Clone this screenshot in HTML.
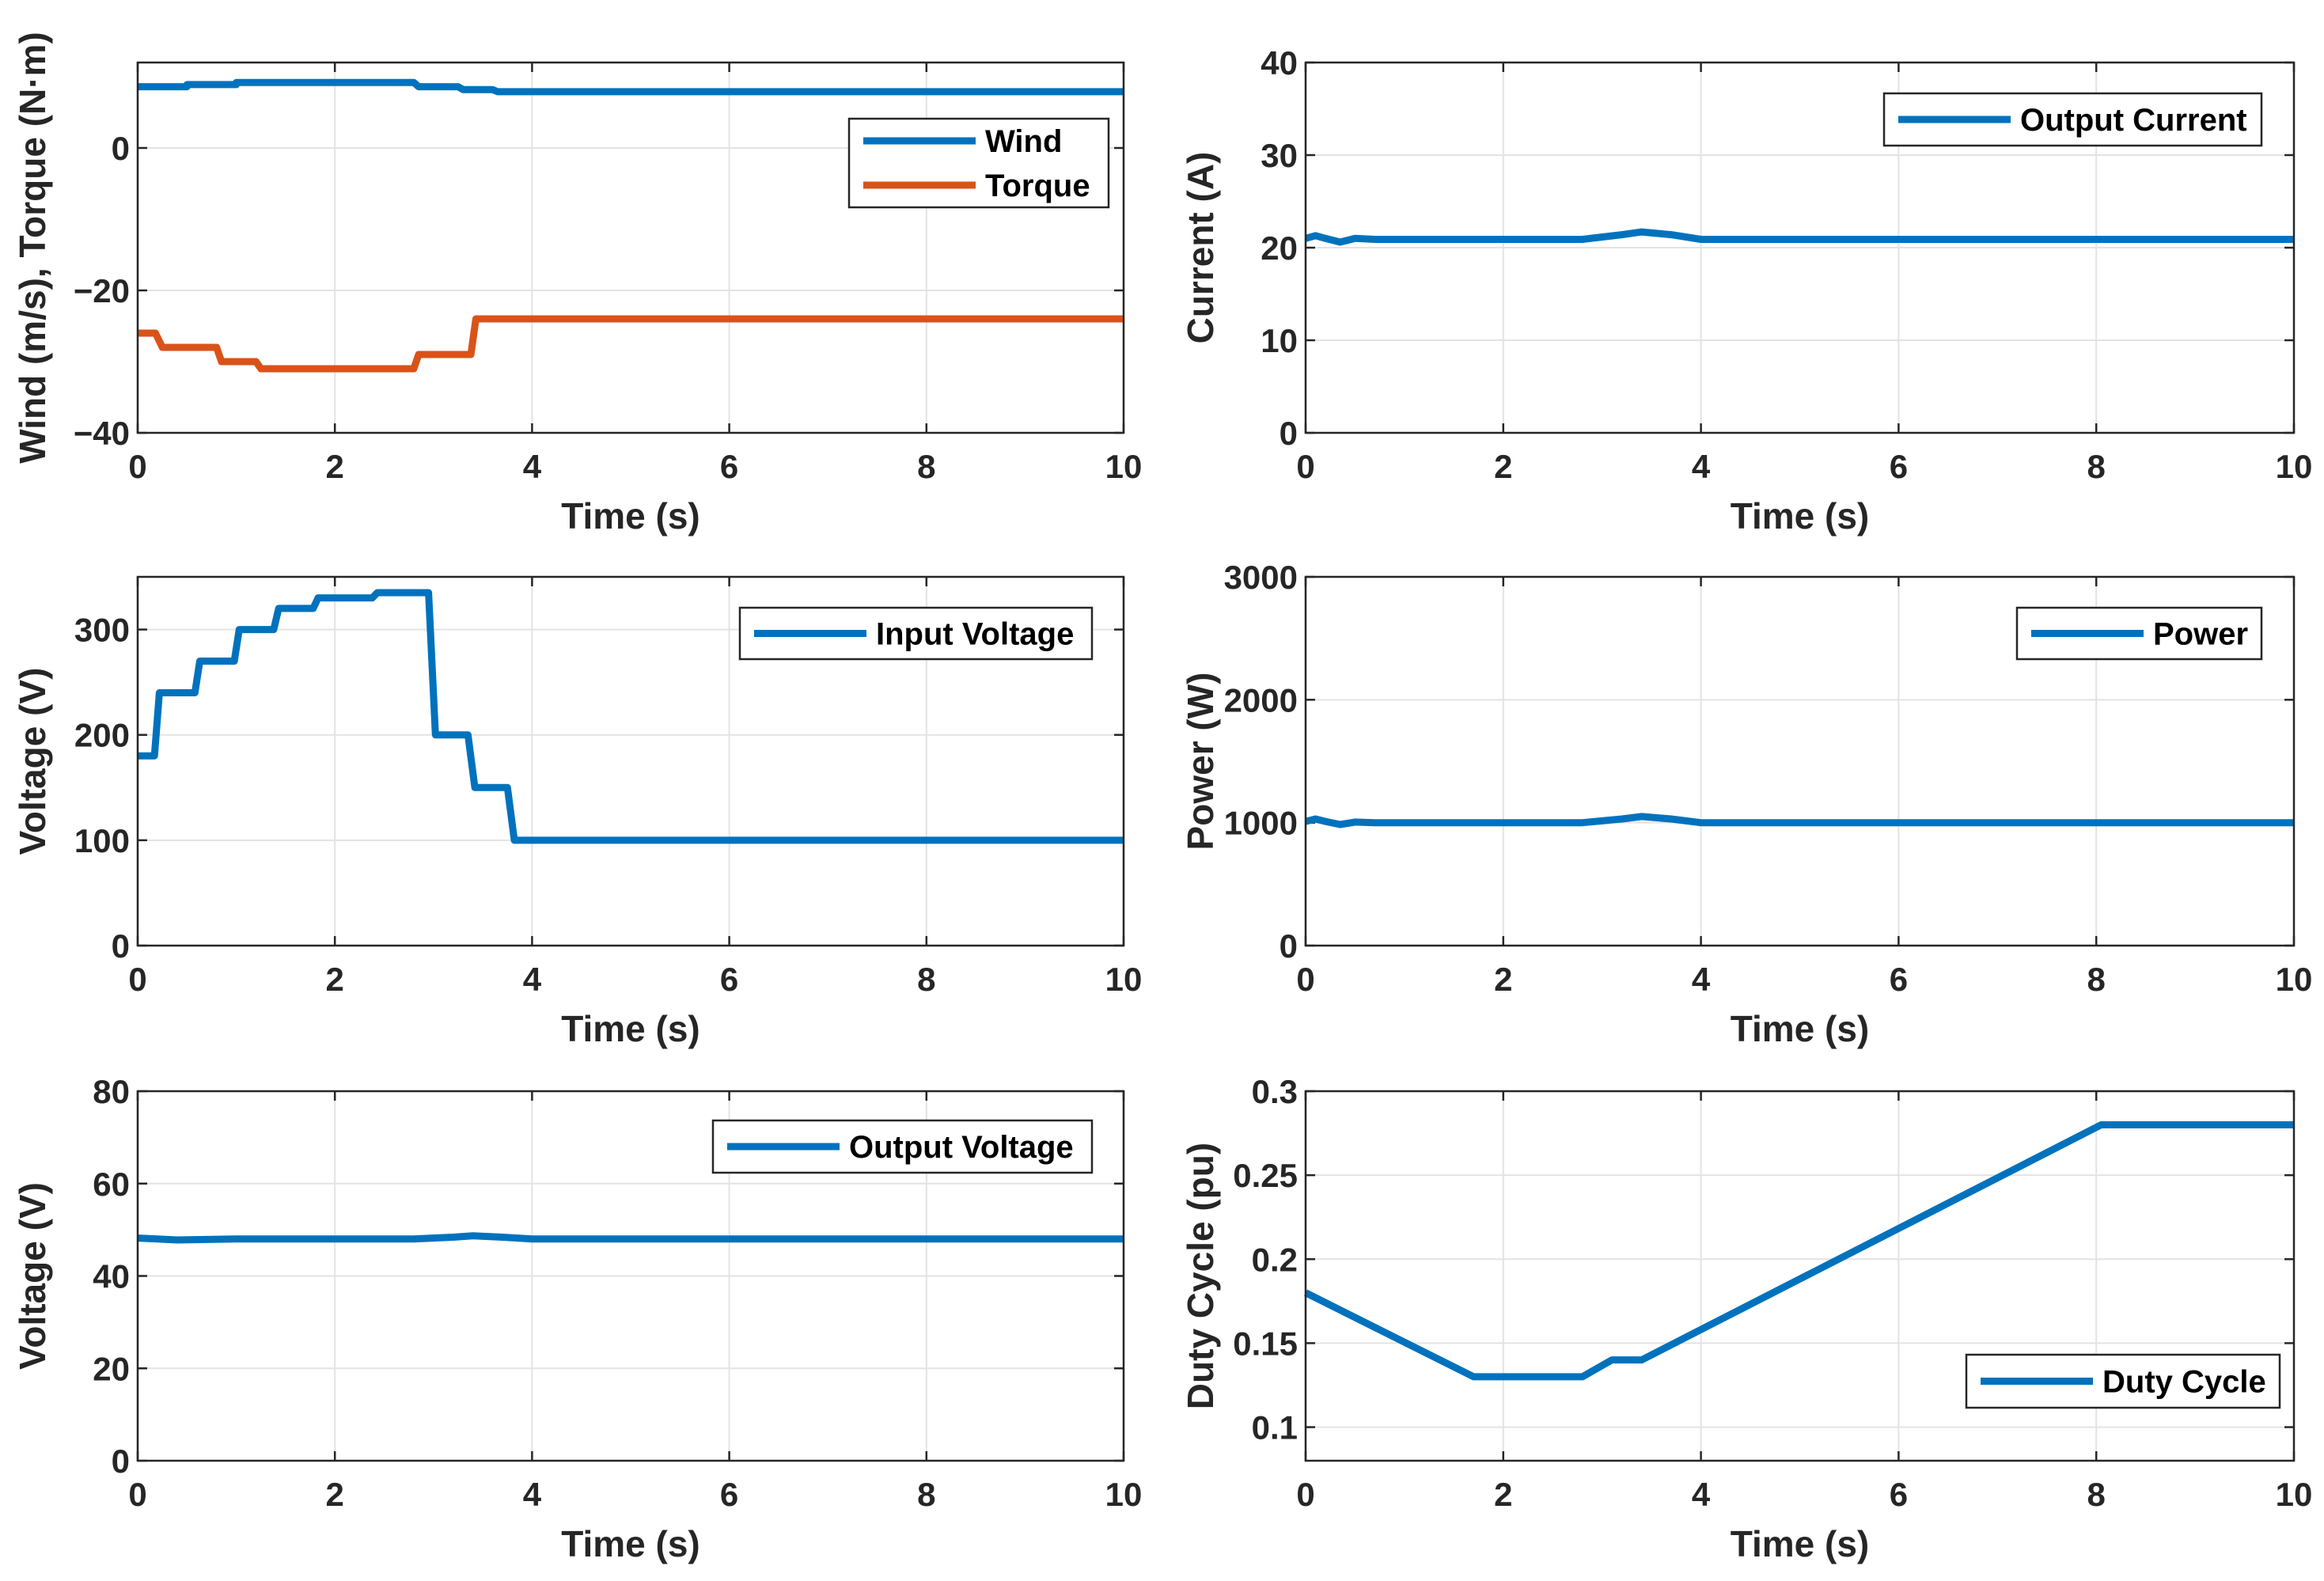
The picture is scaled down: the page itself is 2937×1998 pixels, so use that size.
<!DOCTYPE html>
<html><head><meta charset="utf-8"><style>
body{margin:0;background:#fff;}
svg{display:block;font-family:"Liberation Sans",Arial,sans-serif;font-weight:bold;}
</style></head><body>
<svg id="fig" width="2937" height="1998" viewBox="0 0 2937 1998" xmlns="http://www.w3.org/2000/svg"></svg>
<script>
// ---- data ----
const timeTicks = [0,2,4,6,8,10];
const windT = [0,0.5,0.5,1.0,1.0,2.8,2.85,3.25,3.3,3.6,3.65,10];
const windV = [8.6,8.6,8.9,8.9,9.2,9.2,8.6,8.6,8.2,8.2,7.9,7.9];
const torqueT = [0,0.18,0.25,0.8,0.85,1.2,1.25,2.8,2.85,3.38,3.43,10];
const torqueV = [-26,-26,-28,-28,-30,-30,-31,-31,-29,-29,-24,-24];
const windTicks = [-40,-20,0];
const currentT = [0,0.1,0.2,0.35,0.5,0.7,1.0,2.8,3.2,3.4,3.7,4.0,10];
const currentV = [21,21.3,21,20.6,21,20.9,20.9,20.9,21.4,21.7,21.4,20.9,20.9];
const currentTicks = [0,10,20,30,40];
const vinT = [0,0.17,0.22,0.58,0.63,0.98,1.03,1.38,1.43,1.78,1.83,2.38,2.43,2.95,3.02,3.35,3.42,3.75,3.82,10];
const vinV = [180,180,240,240,270,270,300,300,320,320,330,330,335,335,200,200,150,150,100,100];
const vinTicks = [0,100,200,300];
const powerT = [0,0.1,0.2,0.35,0.5,0.7,1.0,2.8,3.2,3.4,3.7,4.0,10];
const powerV = [1010,1030,1010,985,1005,1000,1000,1000,1030,1050,1030,1000,1000];
const powerTicks = [0,1000,2000,3000];
const voutT = [0,0.2,0.4,1.0,2.8,3.2,3.4,3.7,4.0,10];
const voutV = [48.2,48,47.8,48,48,48.4,48.7,48.4,48,48];
const voutTicks = [0,20,40,60,80];
const dutyT = [0,1.7,2.8,3.1,3.4,8.05,10];
const dutyV = [0.18,0.13,0.13,0.14,0.14,0.28,0.28];
const dutyTicks = [0.1,0.15,0.2,0.25,0.3];

const NS="http://www.w3.org/2000/svg";
const svg=document.getElementById('fig');
function mk(tag,attrs,parent){const e=document.createElementNS(NS,tag);for(const k in attrs)e.setAttribute(k,attrs[k]);(parent||svg).appendChild(e);return e;}

function chart(id,box,ymin,ymax,yticks,ylabel,series,legend,fmt){
  const g=mk('g',{});
  
  
  const [x0,y0,x1,y1]=box;
  const sx=t=>x0+(t-0)/(10-0)*(x1-x0);
  const sy=v=>y1-(v-ymin)/(ymax-ymin)*(y1-y0);
  mk('rect',{x:x0,y:y0,width:x1-x0,height:y1-y0,fill:'#fff'},g);
  timeTicks.forEach(t=>{
    const x=sx(t);
    const l=mk('line',{x1:x,x2:x,y1:y0,y2:y1,stroke:'#e3e3e3','stroke-width':2},g);
    
    
    mk('line',{x1:x,x2:x,y1:y1,y2:y1-12,stroke:'#262626','stroke-width':2.5},g);
    mk('line',{x1:x,x2:x,y1:y0,y2:y0+12,stroke:'#262626','stroke-width':2.5},g);
    const tx=mk('text',{x:x,y:y1+57,'font-size':42,'text-anchor':'middle',fill:'#262626'},g);
    tx.textContent=t;
    
    
  });
  yticks.forEach(v=>{
    const y=sy(v);
    const l=mk('line',{x1:x0,x2:x1,y1:y,y2:y,stroke:'#e3e3e3','stroke-width':2},g);
    
    
    mk('line',{x1:x0,x2:x0+12,y1:y,y2:y,stroke:'#262626','stroke-width':2.5},g);
    mk('line',{x1:x1,x2:x1-12,y1:y,y2:y,stroke:'#262626','stroke-width':2.5},g);
    const tx=mk('text',{x:x0-10,y:y+15,'font-size':42,'text-anchor':'end',fill:'#262626'},g);
    tx.textContent=fmt?fmt(v):(v<0?'\u2212'+(-v):v);
    
    
  });
  series.forEach(s=>{
    const d=s.t.map((t,i)=>(i?'L':'M')+sx(t).toFixed(1)+','+sy(s.v[i]).toFixed(1)).join(' ');
    const p=mk('path',{d:d,fill:'none',stroke:s.c,'stroke-width':9,'stroke-linejoin':'round'},g);
    
    
  });
  mk('rect',{x:x0,y:y0,width:x1-x0,height:y1-y0,fill:'none',stroke:'#262626','stroke-width':2.5},g);
  const xt=mk('text',{x:(x0+x1)/2,y:y1+121,'font-size':46,'text-anchor':'middle',fill:'#262626'},g);
  xt.textContent='Time (s)';
  
  
  const cx=x0-133, cy=(y0+y1)/2;
  const yt=mk('text',{x:cx,y:cy,'font-size':46,'text-anchor':'middle',fill:'#262626',transform:`rotate(-90 ${cx} ${cy})`,'dominant-baseline':'central'},g);
  yt.textContent=ylabel;
  
  
  const [lx0,ly0,lx1,ly1]=legend;
  const lg=mk('g',{},g);
  
  
  mk('rect',{x:lx0,y:ly0,width:lx1-lx0,height:ly1-ly0,fill:'#fff',stroke:'#262626','stroke-width':2.5},lg);
  const n=series.length, h=(ly1-ly0)/n;
  series.forEach((s,i)=>{
    const yy=ly0+h*(i+0.5);
    mk('line',{x1:lx0+18,x2:lx0+160,y1:yy,y2:yy,stroke:s.c,'stroke-width':9},lg);
    const t=mk('text',{x:lx0+172,y:yy+14,'font-size':40,fill:'#000'},lg);
    t.textContent=s.label;
    
    
  });
}
const B='#0072BD', O='#D95319';
chart('wind-torque-chart',[174,79,1420,547],-40,12,windTicks,'Wind (m/s), Torque (N·m)',
  [{t:windT,v:windV,c:B,label:'Wind',name:'wind'},{t:torqueT,v:torqueV,c:O,label:'Torque',name:'torque'}],[1073,150,1401,262]);
chart('current-chart',[1650,79,2899,547],0,40,currentTicks,'Current (A)',
  [{t:currentT,v:currentV,c:B,label:'Output Current',name:'current'}],[2381,118,2858,184]);
chart('input-voltage-chart',[174,729,1420,1195],0,350,vinTicks,'Voltage (V)',
  [{t:vinT,v:vinV,c:B,label:'Input Voltage',name:'input-voltage'}],[935,768,1380,833]);
chart('power-chart',[1650,729,2899,1195],0,3000,powerTicks,'Power (W)',
  [{t:powerT,v:powerV,c:B,label:'Power',name:'power'}],[2549,768,2858,833]);
chart('output-voltage-chart',[174,1379,1420,1846],0,80,voutTicks,'Voltage (V)',
  [{t:voutT,v:voutV,c:B,label:'Output Voltage',name:'output-voltage'}],[901,1416,1380,1482]);
chart('duty-cycle-chart',[1650,1379,2899,1846],0.08,0.3,dutyTicks,'Duty Cycle (pu)',
  [{t:dutyT,v:dutyV,c:B,label:'Duty Cycle',name:'duty-cycle'}],[2485,1712,2881,1779],v=>String(+v.toFixed(2)));
</script>
</body></html>
